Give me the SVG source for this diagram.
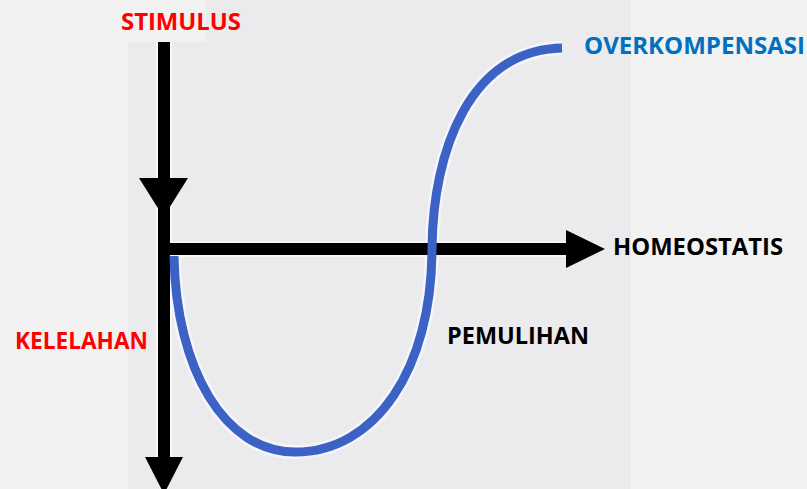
<svg xmlns="http://www.w3.org/2000/svg" width="807" height="489" viewBox="0 0 807 489">
  <style>
    .lbl { font-family: "Open Sans", "Liberation Sans", sans-serif; font-weight: bold; font-size: 24px; }
    .red { fill: #ff0000; }
    .blue { fill: #0070c0; }
    .black { fill: #000000; }
    .axis { stroke: #000000; stroke-width: 12; fill: none; }
    .halo { stroke: #ffffff; stroke-width: 16; fill: none; opacity: 0.6; }
    .curve { stroke: #3d62c6; stroke-width: 9; fill: none; stroke-linecap: butt; }
    .curvehalo { stroke: #f8fbff; stroke-width: 14; fill: none; opacity: 0.7; }
  </style>
  <rect x="0" y="0" width="807" height="489" fill="#f2f2f2"/>
  <rect x="128" y="0" width="503" height="489" fill="#ebebed"/>
  <rect x="128" y="0" width="78" height="42" fill="#f2f2f2"/>

  <g id="connectors">
    <g id="halos">
      <line class="halo" x1="164" y1="42" x2="164" y2="470"/>
      <line class="halo" x1="164" y1="249" x2="570" y2="249"/>
      <path class="curvehalo" d="M174,256 C176,370 225,452 295,452 C375,452 432,370 432,248 C433,150 470,50 562,48"/>
    </g>
    <g id="stimulus-axis">
      <line class="axis" x1="164" y1="42" x2="164" y2="470"/>
      <polygon points="139,178 188,178 163.5,217" fill="#000"/>
      <polygon points="145,457 183,457 164,494" fill="#000"/>
    </g>
    <g id="homeostatis-axis">
      <line class="axis" x1="164" y1="249" x2="570" y2="249" stroke-width="11"/>
      <polygon points="566,230 566,268 605,249" fill="#000"/>
    </g>
    <g id="response-curve">
      <path class="curve" d="M174,256 C176,370 225,452 295,452 C375,452 432,370 432,248 C433,150 470,50 562,48"/>
    </g>
  </g>

  <g id="stimulus">
    <text class="lbl red" x="121" y="30" textLength="120" lengthAdjust="spacingAndGlyphs">STIMULUS</text>
  </g>
  <g id="overkompensasi">
    <text class="lbl blue" x="584" y="54" textLength="221" lengthAdjust="spacingAndGlyphs">OVERKOMPENSASI</text>
  </g>
  <g id="homeostatis">
    <text class="lbl black" x="613" y="255" textLength="170" lengthAdjust="spacingAndGlyphs">HOMEOSTATIS</text>
  </g>
  <g id="kelelahan">
    <text class="lbl red" x="15" y="349" textLength="133" lengthAdjust="spacingAndGlyphs">KELELAHAN</text>
  </g>
  <g id="pemulihan">
    <text class="lbl black" x="447" y="344" textLength="142" lengthAdjust="spacingAndGlyphs">PEMULIHAN</text>
  </g>
</svg>
